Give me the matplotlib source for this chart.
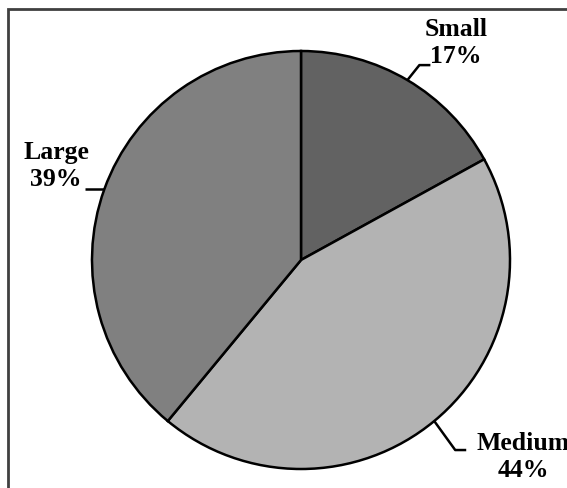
import numpy as np
import matplotlib
matplotlib.use("Agg")
import matplotlib.pyplot as plt
from matplotlib.patches import Rectangle

categories = ["Small", "Medium", "Large"]
values = [17, 44, 39]
colors = ["#626262", "#b3b3b3", "#808080"]

W, H = 567, 489
fig = plt.figure(figsize=(W / 100, H / 100), dpi=100)
ax = fig.add_axes([0, 0, 1, 1])

cx, cy, R = 301, H - 261, 209
wedges, _ = ax.pie(values, colors=colors, startangle=90, counterclock=False,
                   center=(cx, cy), radius=R, frame=True,
                   wedgeprops=dict(edgecolor="black", linewidth=1.8))
ax.set_xlim(0, W)
ax.set_ylim(0, H)
ax.set_aspect("equal")
ax.axis("off")

# frame around chart area (extends past right/bottom edge)
fig.patches.append(Rectangle((7.5 / W, -0.1), 1.2, (H - 9.5) / H + 0.1,
                             transform=fig.transFigure, fill=False,
                             edgecolor="#404040", linewidth=2, zorder=0))

font = dict(family=["Liberation Serif", "DejaVu Serif"], fontweight="bold",
            fontsize=18.5, color="black")

# label layout: (elbow dx, elbow dy), horizontal length, text centre (pixels)
layout = {
    "Small": ((12, 15), 11, (456, H - 43)),
    "Medium": ((21, -29), 11, (523, H - 457)),
    "Large": ((-19, 0), 0, (56, H - 166)),
}

for w, cat, v in zip(wedges, categories, values):
    mid = np.deg2rad((w.theta1 + w.theta2) / 2)
    ex, ey = cx + R * np.cos(mid), cy + R * np.sin(mid)
    (dx, dy), hl, (tx, ty) = layout[cat]
    bx, by = ex + dx, ey + dy
    sgn = 1 if np.cos(mid) > 0 else -1
    ax.plot([ex, bx, bx + sgn * hl], [ey, by, by], color="black",
            linewidth=1.8, solid_capstyle="butt", clip_on=False)
    ax.text(tx, ty, f"{cat}\n{v}%", ha="center", va="center",
            linespacing=1.25, **font)

fig.savefig("out.png", dpi=100)
